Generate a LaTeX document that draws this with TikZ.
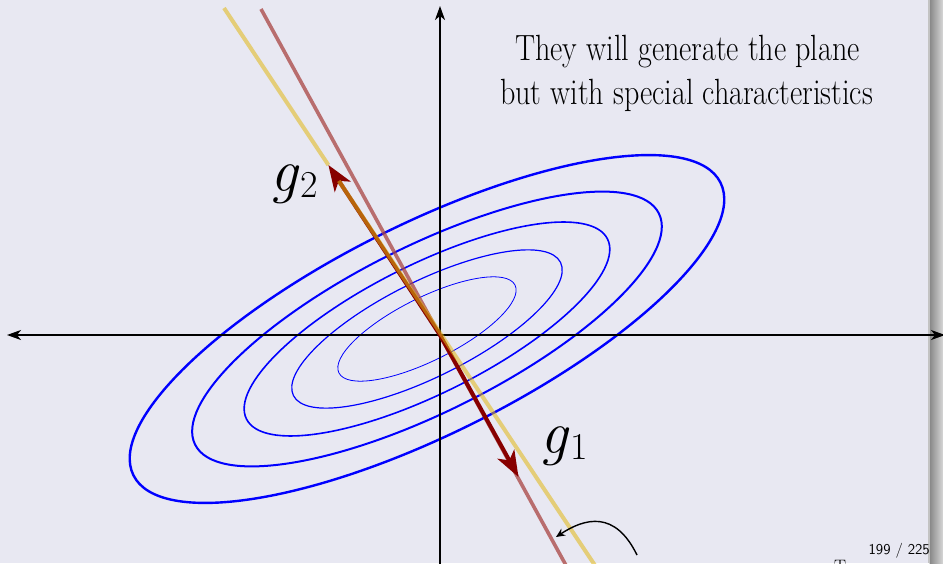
\documentclass[tikz,border=0pt]{standalone}
\usepackage{fontspec}
\usetikzlibrary{arrows.meta,calc}
\definecolor{bg}{RGB}{232,232,242}
\definecolor{goldline}{RGB}{225,183,20}
\definecolor{roseline}{RGB}{169,69,66}
\definecolor{dred}{RGB}{135,0,0}
\definecolor{shadowA}{RGB}{135,135,135}
\definecolor{shadowB}{RGB}{215,215,215}
\definecolor{shadowE}{RGB}{195,195,195}
\newcommand{\veclab}[1]{{\fontsize{61}{61}\selectfont\itshape g}\kern2.5pt\raisebox{-6.5pt}{\fontsize{38}{38}\selectfont #1}}
\newcommand{\captxt}[1]{\scalebox{0.824}[1]{#1}}
\begin{document}
\begin{tikzpicture}[x=1pt,y=-1pt,
  axis/.style={black,line width=1.6pt},
  axisboth/.style={axis,{Stealth[length=14pt,width=10pt,inset=4pt]}-{Stealth[length=14pt,width=10pt,inset=4pt]}},
  axisone/.style={axis,-{Stealth[length=14pt,width=10pt,inset=4pt]}},
  contour/.style={blue},
  vecarrow/.style={dred,line width=4pt,-{Stealth[length=26pt,width=19pt,inset=7pt]}},
  yellowline/.style={goldline,line width=4pt,opacity=0.55},
  pinkline/.style={roseline,line width=3.6pt,opacity=0.75},
  vlabel/.style={inner sep=0pt,anchor=base west},
  caption/.style={inner sep=0pt,anchor=base,font=\fontsize{36.5}{40}\selectfont},
  pointer/.style={black,line width=1.4pt,-{Stealth[length=9pt,width=8pt]}}]
\useasboundingbox (0,0) rectangle (943,563);
\clip (0,0) rectangle (943,563);
\fill[bg] (0,0) rectangle (943,563);
% frame shadow
\shade[left color=shadowA,right color=shadowB] (929.5,0) rectangle (943,563);
\fill[shadowE] (928,0) rectangle (929.5,563);

\coordinate (O) at (440,335);
\coordinate (C) at (427,329);
% contours
\foreach \s/\w in {1/2.4, 0.79/2.0, 0.615/1.6, 0.455/1.2, 0.30/0.8}
  \draw[contour,line width=\w pt,rotate around={26.5:(C)}] (C) ellipse [x radius=328*\s, y radius=105*\s];

% axes
\coordinate (AL) at (7,335);
\coordinate (AR) at (945,335);
\coordinate (AT) at (440,6);
\coordinate (AB) at (440,575);
\draw[axisboth] (AL) -- (AR);
\draw[axisone] (AB) -- (AT);

% lines
\coordinate (P1) at (261,9);
\coordinate (P2) at (585,600);
\coordinate (Y1) at (224,8);
\coordinate (Y2) at (618,600);
\coordinate (G1) at (518.5,477);
\coordinate (G2) at (328.4,165);
\draw[pinkline] (P1) -- (P2);
\draw[vecarrow] (O) -- (G1);
\draw[vecarrow] (O) -- (G2);
\draw[yellowline] (Y1) -- (G2);
\draw[yellowline] ($(G2)!19pt!(O)$) -- (Y2);

% labels
\node[vlabel] (g2) at (270,191) {\veclab{2}};
\node[vlabel] (g1) at (540,453) {\veclab{1}};

\node[caption] (t1) at (687.5,60) {\captxt{They will generate the plane}};
\node[caption] (t2) at (686.5,104) {\captxt{but with special characteristics}};

% pointer
\coordinate (CA) at (637,555);
\coordinate (CB) at (556,537);
\draw[pointer] (CA) .. controls (615,510) and (585,518) .. (CB);

% footer
\node[inner sep=0pt,anchor=base east,font=\sffamily\fontsize{15}{15}\selectfont] (pg) at (930,554) {199 / 225};
\node[inner sep=0pt,anchor=base west,font=\fontsize{18}{18}\selectfont] (tt) at (834,572.5) {T};
\end{tikzpicture}
\end{document}
